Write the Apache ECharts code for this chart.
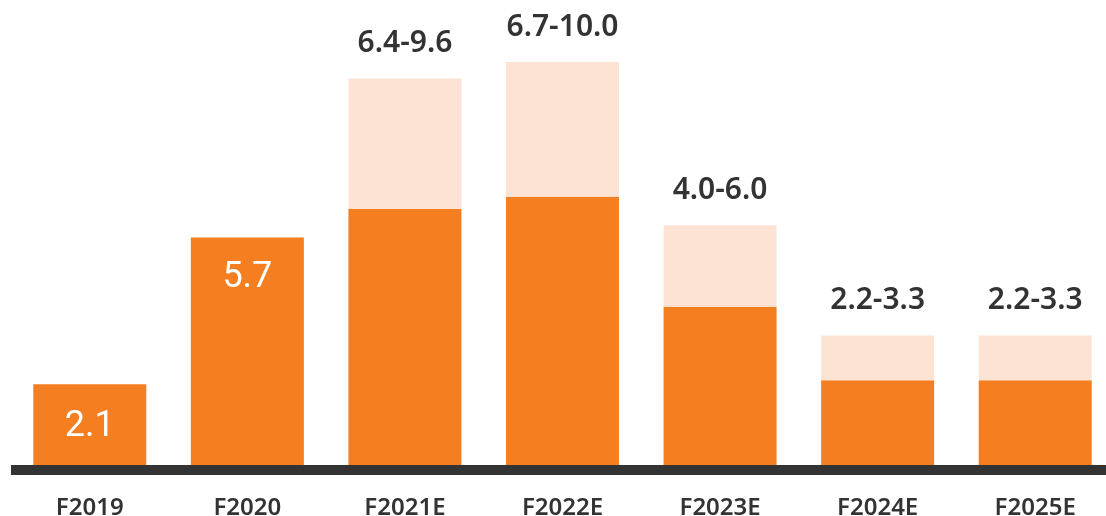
<!DOCTYPE html>
<html>
<head>
<meta charset="utf-8">
<script src="https://cdn.jsdelivr.net/npm/echarts@6/dist/echarts.min.js"></script>
<style>
  html, body { margin: 0; padding: 0; background: #fff; }
  #chart { width: 1106px; height: 516px; }
</style>
</head>
<body>
<div id="chart"></div>
<script>
const categories = ["F2019", "F2020", "F2021E", "F2022E", "F2023E", "F2024E", "F2025E"];
// low end of each range (solid orange)
const lowValues = [2.1, 5.7, 6.4, 6.7, 4.0, 2.2, 2.2];
// high end of each range (top of the pale bar)
const highValues = [null, null, 9.6, 10.0, 6.0, 3.3, 3.3];
const rangeLabels = ["", "", "6.4-9.6", "6.7-10.0", "4.0-6.0", "2.2-3.3", "2.2-3.3"];

const ORANGE = "#f47e20";
const PALE = "#fde3d3";

const chart = echarts.init(document.getElementById("chart"));

const baseData = lowValues.map((v, i) => {
  const item = { value: v };
  if (i === 0) {
    item.label = { show: true, position: "inside" };
  } else if (i === 1) {
    item.label = { show: true, position: "insideTop", distance: 22 };
  }
  return item;
});

const topData = highValues.map((v, i) => (v == null ? null : +(v - lowValues[i]).toFixed(2)));

const option = {
  animation: false,
  grid: { left: 11, width: 1103, top: 5, bottom: 46, outerBoundsMode: "none" },
  xAxis: {
    type: "category",
    data: categories,
    z: 10,
    axisLine: { lineStyle: { color: "#333333", width: 10, cap: "butt" } },
    axisTick: { show: false },
    axisLabel: {
      margin: 26,
      color: "#333333",
      fontFamily: "Noto Sans",
      fontWeight: 600,
      fontSize: 24,
    },
  },
  yAxis: {
    type: "value",
    min: 0,
    max: 11.4,
    show: false,
    splitLine: { show: false },
  },
  series: [
    {
      type: "bar",
      stack: "range",
      barWidth: 113,
      data: baseData,
      itemStyle: { color: ORANGE },
      label: {
        show: false,
        color: "#ffffff",
        fontFamily: "Roboto",
        fontSize: 36,
        formatter: (p) => p.value.toFixed(1),
      },
    },
    {
      type: "bar",
      stack: "range",
      barWidth: 113,
      data: topData,
      itemStyle: { color: PALE },
      label: {
        show: true,
        position: "top",
        distance: 20,
        color: "#333333",
        fontFamily: "Noto Sans",
        fontWeight: 600,
        fontSize: 30,
        formatter: (p) => rangeLabels[p.dataIndex],
      },
    },
  ],
};

chart.setOption(option);
</script>
</body>
</html>
